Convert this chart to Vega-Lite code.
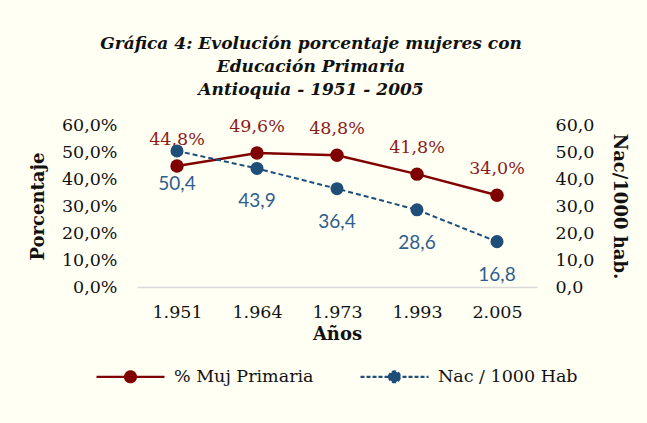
{
  "$schema": "https://vega.github.io/schema/vega-lite/v6.json",
  "width": 400,
  "height": 162,
  "autosize": {"type": "none"},
  "padding": {"left": 137, "top": 125, "right": 110, "bottom": 136},
  "background": "#FFFFF4",
  "config": {
    "locale": {"number": {"decimal": ",", "thousands": ".", "grouping": [3], "currency": ["$", ""]}},
    "view": {"stroke": null},
    "axis": {"grid": false, "ticks": false, "labelFont": "DejaVu Serif", "labelFontSize": 17.5, "labelColor": "#111111", "titleFont": "DejaVu Serif", "titleFontSize": 18, "titleFontWeight": "bold", "titleColor": "#111111"}
  },
  "title": {
    "text": ["Gráfica 4: Evolución porcentaje mujeres con", "Educación Primaria", "Antioquia - 1951 - 2005"],
    "font": "DejaVu Serif",
    "fontSize": 17,
    "fontWeight": "bold",
    "fontStyle": "italic",
    "color": "#111111",
    "anchor": "middle",
    "dx": -26,
    "lineHeight": 23,
    "offset": 17
  },
  "data": {
    "values": [
      {"year": 1951, "muj": 0.448, "nac": 50.4},
      {"year": 1964, "muj": 0.496, "nac": 43.9},
      {"year": 1973, "muj": 0.488, "nac": 36.4},
      {"year": 1993, "muj": 0.418, "nac": 28.6},
      {"year": 2005, "muj": 0.340, "nac": 16.8}
    ]
  },
  "encoding": {
    "x": {
      "field": "year",
      "type": "ordinal",
      "scale": {"paddingInner": 0, "paddingOuter": 0},
      "axis": {"title": "Años", "labelAngle": 0, "labelExpr": "format(datum.value, ',d')", "domainColor": "#D9D9D9", "domainWidth": 1.5, "labelPadding": 16, "titlePadding": 5}
    }
  },
  "layer": [
    {
      "encoding": {
        "y": {"field": "muj", "type": "quantitative", "scale": {"domain": [0, 0.6]}, "axis": {"title": "Porcentaje", "format": ".1%", "values": [0, 0.1, 0.2, 0.3, 0.4, 0.5, 0.6], "domain": false, "labelPadding": 20, "titlePadding": 14}},
        "color": {"datum": "% Muj Primaria", "type": "nominal", "scale": {"domain": ["% Muj Primaria", "Nac / 1000 Hab"], "range": ["#800000", "#1F4E79"]},
          "legend": {
            "title": null, "orient": "none", "legendX": -42, "legendY": 216, "direction": "horizontal",
            "symbolType": "M-1,0L1,0M-0.16,0A0.16,0.16,0,1,1,0.16,0A0.16,0.16,0,1,1,-0.16,0Z",
            "symbolSize": 4624, "symbolStrokeWidth": 2.2,
            "labelFont": "DejaVu Serif", "labelFontSize": 17.5, "labelColor": "#111111", "labelOffset": 8,
            "columnPadding": 42,
            "encode": {"symbols": {"update": {
              "fill": {"scale": "color", "field": "value"},
              "stroke": {"scale": "color", "field": "value"},
              "strokeDash": {"signal": "datum.value === 'Nac / 1000 Hab' ? [4, 2] : [1, 0]"}
            }}}
          }}
      },
      "layer": [
        {"mark": {"type": "line", "strokeWidth": 2.5}},
        {"mark": {"type": "point", "filled": true, "size": 180, "opacity": 1}},
        {"mark": {"type": "text", "dy": -26, "font": "DejaVu Serif", "fontSize": 17.5}, "encoding": {"text": {"field": "muj", "type": "quantitative", "format": ".1%"}, "color": {"value": "#8B1A1A"}}}
      ]
    },
    {
      "encoding": {
        "y": {"field": "nac", "type": "quantitative", "scale": {"domain": [0, 60]}, "axis": {"title": "Nac/1000 hab.", "orient": "right", "format": ".1f", "values": [0, 10, 20, 30, 40, 50, 60], "domain": false, "labelPadding": 18, "titlePadding": 16, "titleAngle": 90}},
        "color": {"datum": "Nac / 1000 Hab", "type": "nominal"}
      },
      "layer": [
        {"mark": {"type": "line", "strokeWidth": 2, "strokeDash": [5, 3]}},
        {"mark": {"type": "point", "filled": true, "size": 170, "opacity": 1}},
        {"mark": {"type": "text", "dy": 33, "font": "Lato", "fontSize": 19}, "encoding": {"text": {"field": "nac", "type": "quantitative", "format": ".1f"}, "color": {"value": "#2E5E8E"}}}
      ]
    }
  ],
  "resolve": {"scale": {"y": "independent"}}
}
